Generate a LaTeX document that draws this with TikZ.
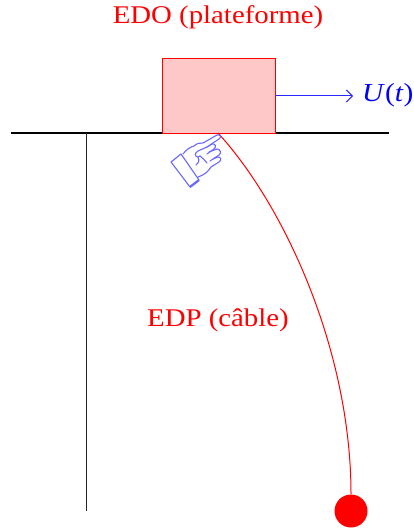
\documentclass[tikz,border=0pt]{standalone}
\usepackage{fontspec}
\setmainfont{Liberation Serif}
\newfontfamily\widefont[FakeStretch=1.13]{Liberation Serif}
\usetikzlibrary{arrows.meta}
\definecolor{pinkfill}{RGB}{255,200,200}
\definecolor{handblue}{RGB}{105,105,255}
\definecolor{arrowblue}{RGB}{40,40,255}
\tikzset{
  x=1pt,y=-1pt,
  redlabel/.style={text=red,font=\widefont\fontsize{25.5}{30}\selectfont,inner sep=0pt},
  platform/.style={draw=red,fill=pinkfill,line width=1pt,minimum width=113pt,minimum height=75pt,inner sep=0pt},
  mass/.style={circle,fill=red,minimum size=33pt,inner sep=0pt},
  handline/.style={draw=handblue,line width=1.1pt,line join=round,line cap=round}
}
\begin{document}
\begin{tikzpicture}
\useasboundingbox (0,0) rectangle (413,529);
\coordinate (gl) at (11,133);
\coordinate (gr) at (389,133);
\coordinate (wt) at (86,133);
\coordinate (wb) at (86,511);
\coordinate (attach) at (218,133);
\coordinate (arrowend) at (353,96);
\draw[line width=2pt] (gl) -- (gr);
\draw[line width=1pt,black!85] (wt) -- (wb);
\node[platform] (plat) at (218.5,96) {};
\node[redlabel] (edo) at (218,17.5) {EDO (plateforme)};
\node[redlabel] (edp) at (218,320.5) {EDP (câble)};
\node[mass] (ball) at (351,511) {};
\node[text=blue,inner sep=0pt,anchor=west,font=\widefont\fontsize{26}{30}\selectfont] (u) at (362,95) {\textit{U}(\textit{t})};
\draw[arrowblue,line width=1pt,-{Straight Barb[length=6pt,width=12pt]}] (plat.east) -- (arrowend);
\draw[red,line width=1pt] (attach) .. controls (284,205) and (351,350) .. (ball.north);
% pointing hand: cuff
\path[handline,fill=white] (171,162) -- (181,154) -- (199,180) -- (190,187) -- cycle;
% back of hand and index finger
\path[handline] (183,154) .. controls (186,150) and (190,147) .. (194,146)
  .. controls (197,143) and (200,143) .. (203,143) -- (217,135)
  .. controls (220,134) and (222,137) .. (219,139) -- (207,147);
% second finger
\path[handline] (207,147) -- (212,144) .. controls (215,143) and (217,147) .. (214,149) -- (207,154);
% third finger
\path[handline] (209,152) -- (217,149) .. controls (220,149) and (222,153) .. (219,155) -- (210,161);
% fourth finger and palm edge
\path[handline] (213,159) -- (218,157) .. controls (221,157) and (222,160) .. (219,162) -- (211,167)
  .. controls (208,172) and (204,175) .. (198,177);
% thumb
\path[handline] (207,147) -- (198,151) .. controls (194,153) and (195,157) .. (198,157) -- (200,156);
\path[handline] (198,157) .. controls (200,161) and (198,164) .. (196,165);
\path[handline] (200,156) .. controls (203,158) and (205,161) .. (207,163);
\draw[draw=handblue,line width=2.2pt] (190,187) -- (199,180);
\end{tikzpicture}
\end{document}
